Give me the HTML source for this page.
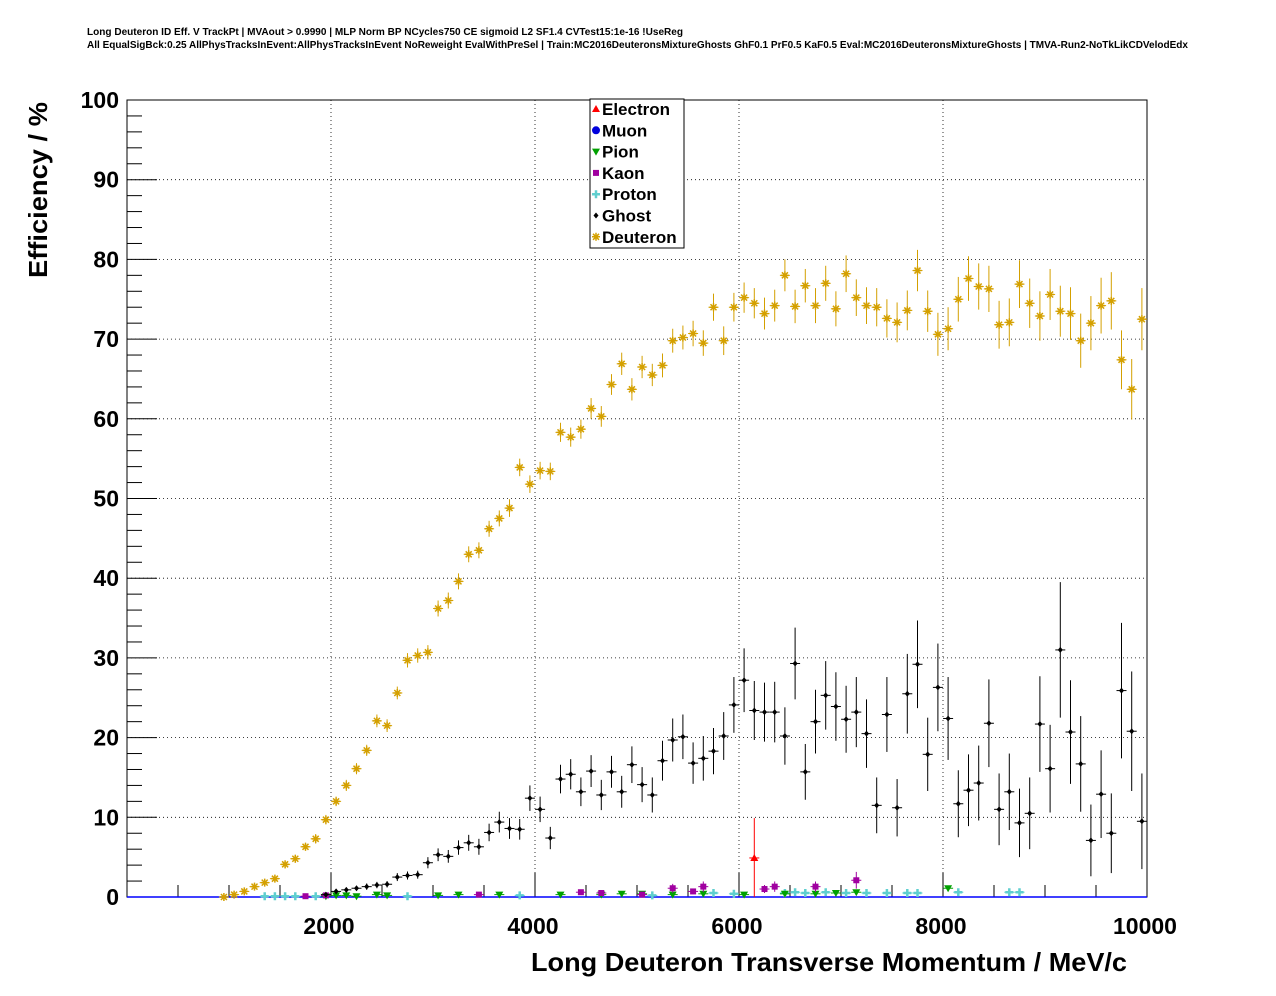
<!DOCTYPE html>
<html><head><meta charset="utf-8"><style>
body{margin:0;background:#fff;font-family:"Liberation Sans",sans-serif}
svg{display:block}
</style></head><body>
<svg id="c" width="1276" height="996" xmlns="http://www.w3.org/2000/svg">
<text x="87" y="35" font-size="10" font-weight="bold" textLength="596" lengthAdjust="spacingAndGlyphs">Long Deuteron ID Eff. V TrackPt | MVAout &gt; 0.9990 | MLP Norm BP NCycles750 CE sigmoid L2 SF1.4 CVTest15:1e-16 !UseReg</text>
<text x="87" y="48" font-size="10" font-weight="bold" textLength="1101" lengthAdjust="spacingAndGlyphs">All EqualSigBck:0.25 AllPhysTracksInEvent:AllPhysTracksInEvent NoReweight EvalWithPreSel | Train:MC2016DeuteronsMixtureGhosts GhF0.1 PrF0.5 KaF0.5 Eval:MC2016DeuteronsMixtureGhosts | TMVA-Run2-NoTkLikCDVelodEdx</text>
<g id="grid"></g>
<g id="axes"></g>
<g id="marks"></g>
<text transform="translate(47,278) rotate(-90)" font-size="26" font-weight="bold" textLength="176" lengthAdjust="spacingAndGlyphs">Efficiency / %</text>
<text x="531" y="971" font-size="26" font-weight="bold" textLength="596" lengthAdjust="spacingAndGlyphs">Long Deuteron Transverse Momentum / MeV/c</text>
<g>
<rect x="590" y="99" width="94" height="149" fill="#fff" stroke="#000" stroke-width="1"/>
<g id="leg"></g>
</g>
</svg>
<script>
const xTicks=[2000,4000,6000,8000,10000];
const yTicks=[0,10,20,30,40,50,60,70,80,90,100];
const deuteronVals=[0,0.3,0.7,1.3,1.8,2.3,4.1,4.8,6.3,7.3,9.7,12,14,16.1,18.4,22.1,21.5,25.6,29.7,30.3,30.7,36.2,37.2,39.6,43,43.5,46.2,47.5,48.8,53.9,51.8,53.5,53.4,58.3,57.7,58.7,61.3,60.3,64.3,66.9,63.7,66.5,65.5,66.7,69.8,70.2,70.7,69.5,74,69.8,74,75.2,74.5,73.2,74.2,78,74.1,76.7,74.2,77,73.8,78.2,75.2,74.2,74,72.6,72.1,73.6,78.6,73.5,70.6,71.3,75,77.6,76.6,76.3,71.8,72.1,76.9,74.5,72.9,75.6,73.5,73.2,69.8,72,74.2,74.8,67.4,63.7,72.5];
const deuteronErr=[0.2,0.2,0.3,0.3,0.4,0.4,0.5,0.5,0.5,0.6,0.6,0.6,0.7,0.7,0.7,0.8,0.8,0.8,0.9,0.9,0.9,1,1,1,1,1,1,1,1.1,1.1,1.1,1.1,1.1,1.2,1.2,1.2,1.3,1.3,1.3,1.4,1.4,1.4,1.4,1.5,1.5,1.5,1.6,1.6,1.7,1.8,1.8,1.9,1.9,2,2,2,2.1,2.1,2.2,2.2,2.2,2.3,2.3,2.3,2.4,2.4,2.5,2.5,2.6,2.6,2.7,2.7,2.8,2.8,2.9,2.9,3,3,3,3.1,3.1,3.2,3.2,3.3,3.4,3.4,3.5,3.6,3.7,3.8,3.9];
const ghostVals=[null,null,null,null,null,null,null,null,null,null,0.3,0.7,0.9,1.1,1.3,1.5,1.6,2.5,2.7,2.8,4.3,5.3,5.1,6.2,6.8,6.3,8.1,9.4,8.6,8.5,12.4,11,7.4,14.8,15.4,13.2,15.8,12.8,15.7,13.2,16.6,14.1,12.8,17.1,19.7,20.1,16.8,17.4,18.3,20.2,24.1,27.2,23.4,23.2,23.2,20.2,29.3,15.7,22,25.3,23.9,22.3,23.2,20.5,11.5,22.9,11.2,25.5,29.2,17.9,26.3,22.4,11.7,13.4,14.3,21.8,11,13.2,9.3,10.5,21.7,16.1,31,20.7,16.7,7.1,12.9,8,25.9,20.8,9.5];
const ghostErr=[0,0,0,0,0,0,0,0,0,0,0.2,0.3,0.3,0.3,0.4,0.4,0.4,0.5,0.5,0.5,0.7,0.8,0.8,0.9,1,1,1.1,1.3,1.3,1.3,1.6,1.6,1.4,1.8,1.9,1.8,2,1.9,2,2,2.3,2.2,2.2,2.5,2.7,2.8,2.6,2.8,2.9,3,3.5,4,3.7,3.7,3.8,3.6,4.5,3.5,4,4.3,4.3,4.2,4.4,4.3,3.5,4.7,3.6,5,5.5,4.6,5.5,5.2,4.2,4.5,4.7,5.5,4.5,4.8,4.3,4.5,6,5.5,8.5,6.5,6,4.5,5.5,5,8.5,7.5,6];
const pionX=[1950,2050,2150,2250,2450,2550,3050,3250,3650,4250,4650,4850,5050,5350,5650,6050,6450,6750,6950,7150,8050];
const pionVals=[0.1,0.2,0.2,0.1,0.3,0.2,0.2,0.3,0.3,0.3,0.3,0.4,0.4,0.3,0.4,0.3,0.4,0.4,0.5,0.6,1.1];
const kaonX=[1750,1950,3450,4450,4650,5050,5350,5550,5650,6250,6350,6750,7150];
const kaonVals=[0.1,0.2,0.3,0.6,0.5,0.3,1.1,0.7,1.3,1,1.3,1.3,2.1];
const protonX=[1350,1450,1550,1650,1850,2750,3850,5150,5750,5950,6450,6550,6650,6850,7050,7250,7450,7650,7750,8150,8650,8750];
const protonVals=[0.1,0.1,0.1,0.1,0.1,0.1,0.2,0.2,0.5,0.4,0.5,0.6,0.5,0.6,0.5,0.5,0.5,0.5,0.5,0.6,0.6,0.6];
const electronX=[6150];
const electronVals=[4.9];
const electronErr=[5];

const L=127,R=1147,T=100,B=897;
const X=v=>L+(v-0)/(10000)*(R-L);
const Y=v=>B-v/100*(B-T);
const NS='http://www.w3.org/2000/svg';
function mk(tag,attrs,parent){const e=document.createElementNS(NS,tag);for(const k in attrs)e.setAttribute(k,attrs[k]);parent.appendChild(e);return e;}
const grid=document.getElementById('grid'),axes=document.getElementById('axes'),marks=document.getElementById('marks');
xTicks.forEach(t=>{if(t<10000){const l=mk('line',{x1:X(t),x2:X(t),y1:T,y2:B,stroke:'#000','stroke-width':0.8,'stroke-dasharray':'1,3'},grid);

}});
yTicks.forEach(t=>{if(t>0&&t<100){const l=mk('line',{x1:L,x2:R,y1:Y(t),y2:Y(t),stroke:'#000','stroke-width':0.8,'stroke-dasharray':'1,3'},grid);

}});
mk('rect',{x:L,y:T,width:R-L,height:B-T,fill:'none',stroke:'#000','stroke-width':1},axes);
for(let v=0;v<=10000;v+=500){const big=v%2000===0;mk('line',{x1:X(v),x2:X(v),y1:B,y2:B-(big?24:12),stroke:'#000'},axes);}
for(let v=0;v<=100;v+=2){const big=v%10===0;mk('line',{x1:L,x2:L+(big?30:15),y1:Y(v),y2:Y(v),stroke:'#000'},axes);}
xTicks.forEach(t=>{const e=mk('text',{x:X(t)-2,y:934,'font-size':23,'font-weight':'bold','text-anchor':'middle'},axes);e.textContent=t;

});
yTicks.forEach(t=>{const e=mk('text',{x:119,y:Y(t)+8,'font-size':23,'font-weight':'bold','text-anchor':'end'},axes);e.textContent=t;

});
mk('line',{x1:L,x2:R,y1:B,y2:B,stroke:'#0000ff','stroke-width':1.5},axes);

function marker(kind,cx,cy,col,g){
 if(kind==='star'){mk('path',{d:`M${cx-4} ${cy}H${cx+4}M${cx} ${cy-4}V${cy+4}M${cx-3} ${cy-3}L${cx+3} ${cy+3}M${cx-3} ${cy+3}L${cx+3} ${cy-3}`,stroke:col,'stroke-width':1.5},g);}
 else if(kind==='diamond'){mk('path',{d:`M${cx} ${cy-3}L${cx+2.5} ${cy}L${cx} ${cy+3}L${cx-2.5} ${cy}Z`,fill:col},g);}
 else if(kind==='tri'){mk('path',{d:`M${cx} ${cy-4}L${cx+4} ${cy+3}L${cx-4} ${cy+3}Z`,fill:col},g);}
 else if(kind==='tridown'){mk('path',{d:`M${cx} ${cy+4}L${cx+4} ${cy-3}L${cx-4} ${cy-3}Z`,fill:col},g);}
 else if(kind==='square'){mk('rect',{x:cx-3,y:cy-3,width:6,height:6,fill:col},g);}
 else if(kind==='cross'){mk('path',{d:`M${cx-4} ${cy}H${cx+4}M${cx} ${cy-4}V${cy+4}`,stroke:col,'stroke-width':2.5},g);}
 else if(kind==='circle'){mk('circle',{cx:cx,cy:cy,r:4,fill:col},g);}
}
function series(name,xs,vals,errs,kind,col){
 const g=mk('g',{},marks);
 
 
 vals.forEach((v,i)=>{if(v===null)return;const cx=X(xs[i]),cy=Y(v);
  const e=errs?errs[i]:0;
  mk('line',{x1:cx-5,x2:cx+5,y1:cy,y2:cy,stroke:col,'stroke-width':1},g);
  if(e>0)mk('line',{x1:cx,x2:cx,y1:Y(v+e),y2:Y(Math.max(0,v-e)),stroke:col,'stroke-width':1},g);
  marker(kind,cx,cy,col,g);});
}
const binX=deuteronVals.map((_,i)=>950+100*i);
series('proton',protonX,protonVals,null,'cross','#5fcfcf');
series('pion',pionX,pionVals,null,'tridown','#00a000');
series('kaon',kaonX,kaonVals,kaonVals.map(v=>v*0.5),'square','#a000a0');
series('electron',electronX,electronVals,electronErr,'tri','#ff0000');
series('ghost',binX,ghostVals,ghostErr,'diamond','#000');
series('deuteron',binX,deuteronVals,deuteronErr,'star','#d4a000');

const legItems=[['Electron','tri','#ff0000'],['Muon','circle','#0000dd'],['Pion','tridown','#00a000'],['Kaon','square','#a000a0'],['Proton','cross','#5fcfcf'],['Ghost','diamond','#000'],['Deuteron','star','#d4a000']];
const leg=document.getElementById('leg');
legItems.forEach((it,i)=>{const y=109+i*21.3;const g=mk('g',{},leg);
 
 
 marker(it[1],596,y,it[2],g);
 const t=mk('text',{x:602,y:y+6,'font-size':17,'font-weight':'bold'},g);t.textContent=it[0];});
</script>
</body></html>
